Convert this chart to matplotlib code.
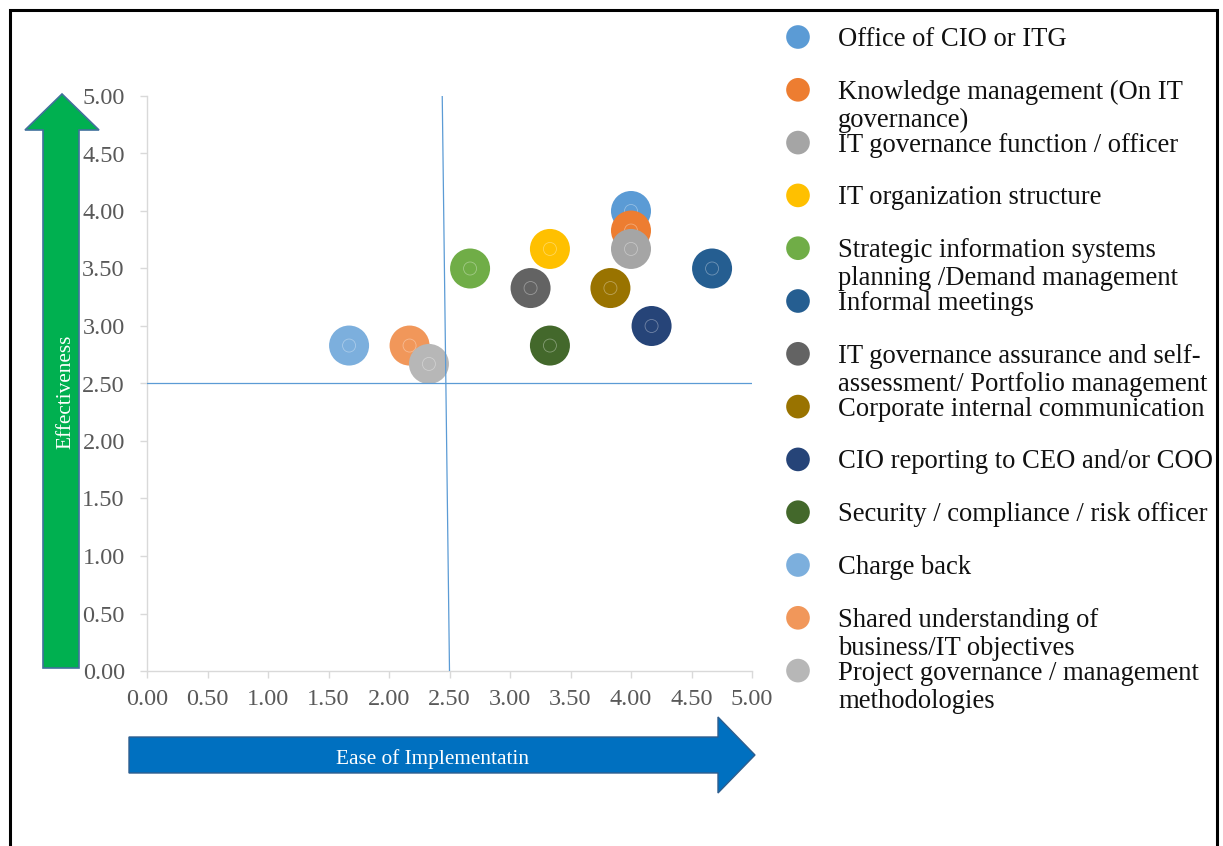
import matplotlib
matplotlib.use('Agg')
import matplotlib.pyplot as plt
from matplotlib.patches import Polygon
from matplotlib.colors import to_rgb

plt.rcParams['font.family'] = ['Liberation Serif', 'DejaVu Serif']

categories = [
    "Office of CIO or ITG",
    "Knowledge management (On IT\ngovernance)",
    "IT governance function / officer",
    "IT organization structure",
    "Strategic information systems\nplanning /Demand management",
    "Informal meetings",
    "IT governance assurance and self-\nassessment/ Portfolio management",
    "Corporate internal communication",
    "CIO reporting to CEO and/or COO",
    "Security / compliance / risk officer",
    "Charge back",
    "Shared understanding of\nbusiness/IT objectives",
    "Project governance / management\nmethodologies",
]
ease = [4.00, 4.00, 4.00, 3.33, 2.67, 4.67, 3.17, 3.83, 4.17, 3.33, 1.67, 2.17, 2.33]
effectiveness = [4.00, 3.83, 3.67, 3.67, 3.50, 3.50, 3.33, 3.33, 3.00, 2.83, 2.83, 2.83, 2.67]
colors = ["#5B9BD5", "#ED7D31", "#A5A5A5", "#FFC000", "#70AD47", "#255E91",
          "#636363", "#997300", "#264478", "#43682B", "#7CAFDD", "#F1975A", "#B7B7B7"]
tick_values = [0.0, 0.5, 1.0, 1.5, 2.0, 2.5, 3.0, 3.5, 4.0, 4.5, 5.0]
tick_labels = ["0.00", "0.50", "1.00", "1.50", "2.00", "2.50", "3.00", "3.50", "4.00", "4.50", "5.00"]
quad_v_x = [2.44, 2.50]
quad_v_y = [5.0, 0.0]
quad_h_x = [0.0, 5.0]
quad_h_y = [2.5, 2.5]
x_title = "Ease of Implementatin"
y_title = "Effectiveness"

W, H = 1223, 846
fig = plt.figure(figsize=(W / 100, H / 100), dpi=100)

# overlay in pixel coordinates
ov = fig.add_axes([0, 0, 1, 1])
ov.set_xlim(0, W)
ov.set_ylim(H, 0)
ov.axis('off')

# border
ov.plot([9.5, 9.5, 1217, 1217], [H, 10, 10, H], color='black', lw=2.2, solid_joinstyle='miter')

# green up arrow
green = Polygon([(43, 668), (43, 130), (25, 130), (62, 94), (99, 130), (79, 130), (79, 668)],
                closed=True, facecolor='#00B050', edgecolor='#41719C', lw=1.2)
ov.add_patch(green)
ov.text(66, 392, y_title, rotation=90, color='white', fontsize=15.3, ha='center', va='center')

# blue right arrow
blue = Polygon([(129, 737), (718, 737), (718, 717), (755, 755), (718, 793), (718, 773), (129, 773)],
               closed=True, facecolor='#0070C0', edgecolor='#2E5E8E', lw=1.0)
ov.add_patch(blue)
ov.text(433, 759, x_title, color='white', fontsize=15.3, ha='center', va='center')

# legend
ly0, lstep = 37, 52.8
for i, (lab, c) in enumerate(zip(categories, colors)):
    y = ly0 + i * lstep
    ov.scatter([798], [y], s=290, color=c, edgecolors='none')
    for j, line in enumerate(lab.split('\n')):
        ov.text(838, y + 9 + j * 28, line, fontsize=19.2, color='#111111',
                ha='left', va='baseline')

# main axes
ax = fig.add_axes([147 / W, (H - 671) / H, 605 / W, 575 / H])
ax.set_facecolor('none')
ax.set_xlim(0, 5)
ax.set_ylim(0, 5)
for side in ['top', 'right']:
    ax.spines[side].set_visible(False)
for side in ['left', 'bottom']:
    ax.spines[side].set_color('#D9D9D9')
    ax.spines[side].set_linewidth(1.0)
ax.set_xticks(tick_values)
ax.set_xticklabels(tick_labels)
ax.set_yticks(tick_values)
ax.set_yticklabels(tick_labels)
ax.tick_params(axis='both', colors='#D9D9D9', labelcolor='#595959', labelsize=17.5,
               length=5, width=1.0, direction='out')
ax.tick_params(axis='x', pad=8)
ax.tick_params(axis='y', pad=11)

def lighter(c, f=0.35):
    r, g, b = to_rgb(c)
    return (r + (1 - r) * f, g + (1 - g) * f, b + (1 - b) * f)

for x, y, c in zip(ease, effectiveness, colors):
    ax.scatter([x], [y], s=830, color=c, edgecolors='none', zorder=3, clip_on=False)
    ax.scatter([x], [y], s=88, facecolors='none', edgecolors=[lighter(c)], linewidths=0.6,
               zorder=3, clip_on=False)

ax.plot(quad_v_x, quad_v_y, color='#5B9BD5', lw=0.9, zorder=4)
ax.plot(quad_h_x, quad_h_y, color='#5B9BD5', lw=0.9, zorder=4)

fig.savefig('out.png', dpi=100)
